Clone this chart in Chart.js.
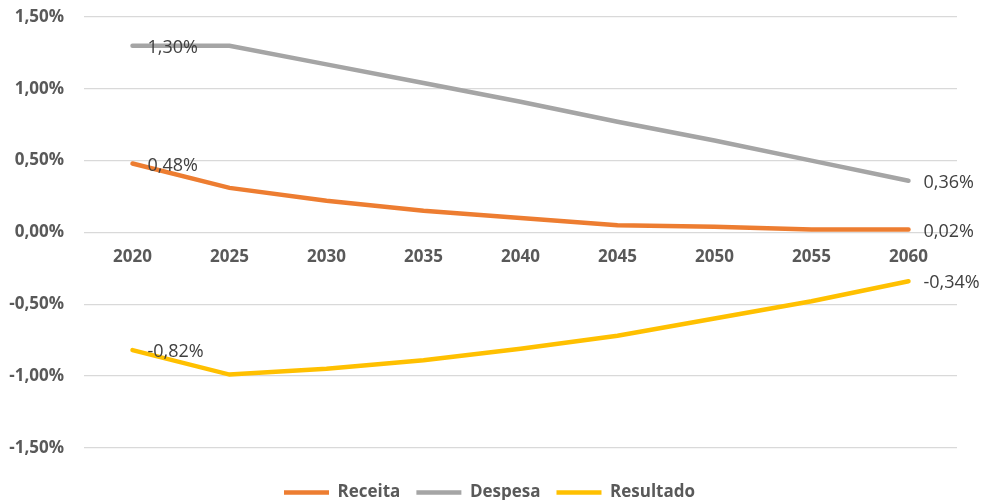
<!DOCTYPE html>
<html>
<head>
<meta charset="utf-8">
<script src="https://cdn.jsdelivr.net/npm/chart.js@4.4.0/dist/chart.umd.min.js"></script>
<style>
  html, body { margin: 0; padding: 0; background: #fff; }
  #wrap { width: 983px; height: 500px; }
</style>
</head>
<body>
<div id="wrap"><canvas id="myChart" width="983" height="500"></canvas></div>
<script>
'use strict';

let years = ['2020', '2025', '2030', '2035', '2040', '2045', '2050', '2055', '2060'];
let receita = [0.48, 0.31, 0.22, 0.15, 0.10, 0.05, 0.04, 0.02, 0.02];
let despesa = [1.30, 1.30, 1.17, 1.04, 0.91, 0.77, 0.64, 0.50, 0.36];
let resultado = [-0.82, -0.99, -0.95, -0.89, -0.81, -0.72, -0.60, -0.48, -0.34];
let yTicks = [-1.5, -1.0, -0.5, 0, 0.5, 1.0, 1.5];

function pct(v) {
  return v.toFixed(2).replace('.', ',') + '%';
}

// labels only on first and last point, right of the point
let endLabels = {
  id: 'endLabels',
  afterDatasetsDraw(chart) {
    let ctx = chart.ctx;
    ctx.save();
    ctx.font = '18px "Open Sans"';
    ctx.fillStyle = '#404040';
    ctx.textAlign = 'left';
    ctx.textBaseline = 'middle';
    chart.data.datasets.forEach((ds, i) => {
      let meta = chart.getDatasetMeta(i);
      [0, ds.data.length - 1].forEach(j => {
        let pt = meta.data[j];
        ctx.fillText(pct(ds.data[j]), pt.x + 15, pt.y + 2);
      });
    });
    ctx.restore();
  }
};

function noPad(scale) {
  scale.paddingTop = 0;
  scale.paddingBottom = 0;
}

let ctx = document.getElementById('myChart').getContext('2d');
let myChart = new Chart(ctx, {
  type: 'line',
  data: {
    labels: years,
    datasets: [{
      label: 'Receita',
      data: receita,
      borderColor: '#ED7D31',
      backgroundColor: '#ED7D31',
      borderWidth: 4.5,
      pointRadius: 0,
      pointStyle: 'line'
    },
    {
      label: 'Despesa',
      data: despesa,
      borderColor: '#A5A5A5',
      backgroundColor: '#A5A5A5',
      borderWidth: 4.5,
      pointRadius: 0,
      pointStyle: 'line'
    },
    {
      label: 'Resultado',
      data: resultado,
      borderColor: '#FFC000',
      backgroundColor: '#FFC000',
      borderWidth: 4.5,
      pointRadius: 0,
      pointStyle: 'line'
    }]
  },
  options: {
    responsive: false,
    animation: false,
    borderCapStyle: 'round',
    layout: { padding: { left: 0, right: 4, top: 17, bottom: -11 } },
    plugins: {
      tooltip: { enabled: false },
      legend: {
        position: 'bottom',
        // empty title only to push the legend row away from the plot
        title: { display: true, text: '', font: { size: 1 }, padding: { top: 19, bottom: 0 } },
        labels: {
          usePointStyle: true,
          pointStyleWidth: 45,
          boxHeight: 17,
          padding: 16,
          color: '#595959',
          font: { family: 'Open Sans', size: 17, weight: 'bold' }
        }
      }
    },
    scales: {
      x: {
        position: { y: 0 },
        offset: true,
        afterFit: scale => { noPad(scale); scale.paddingRight = 26; },
        grid: { display: false, drawTicks: false },
        border: { display: false },
        ticks: {
          padding: 15,
          color: '#595959',
          font: { family: 'Open Sans', size: 17, weight: 'bold' }
        }
      },
      y: {
        min: -1.5,
        max: 1.5,
        afterBuildTicks: scale => { scale.ticks = yTicks.map(v => ({ value: v })); },
        afterFit: scale => { scale.width = 84; noPad(scale); },
        grid: { color: '#D9D9D9', lineWidth: 1.3, drawTicks: false },
        border: { display: false },
        ticks: {
          padding: 20,
          color: '#595959',
          font: { family: 'Open Sans', size: 17, weight: 'bold' },
          callback: v => pct(v)
        }
      }
    }
  },
  plugins: [endLabels]
});
</script>
</body>
</html>
